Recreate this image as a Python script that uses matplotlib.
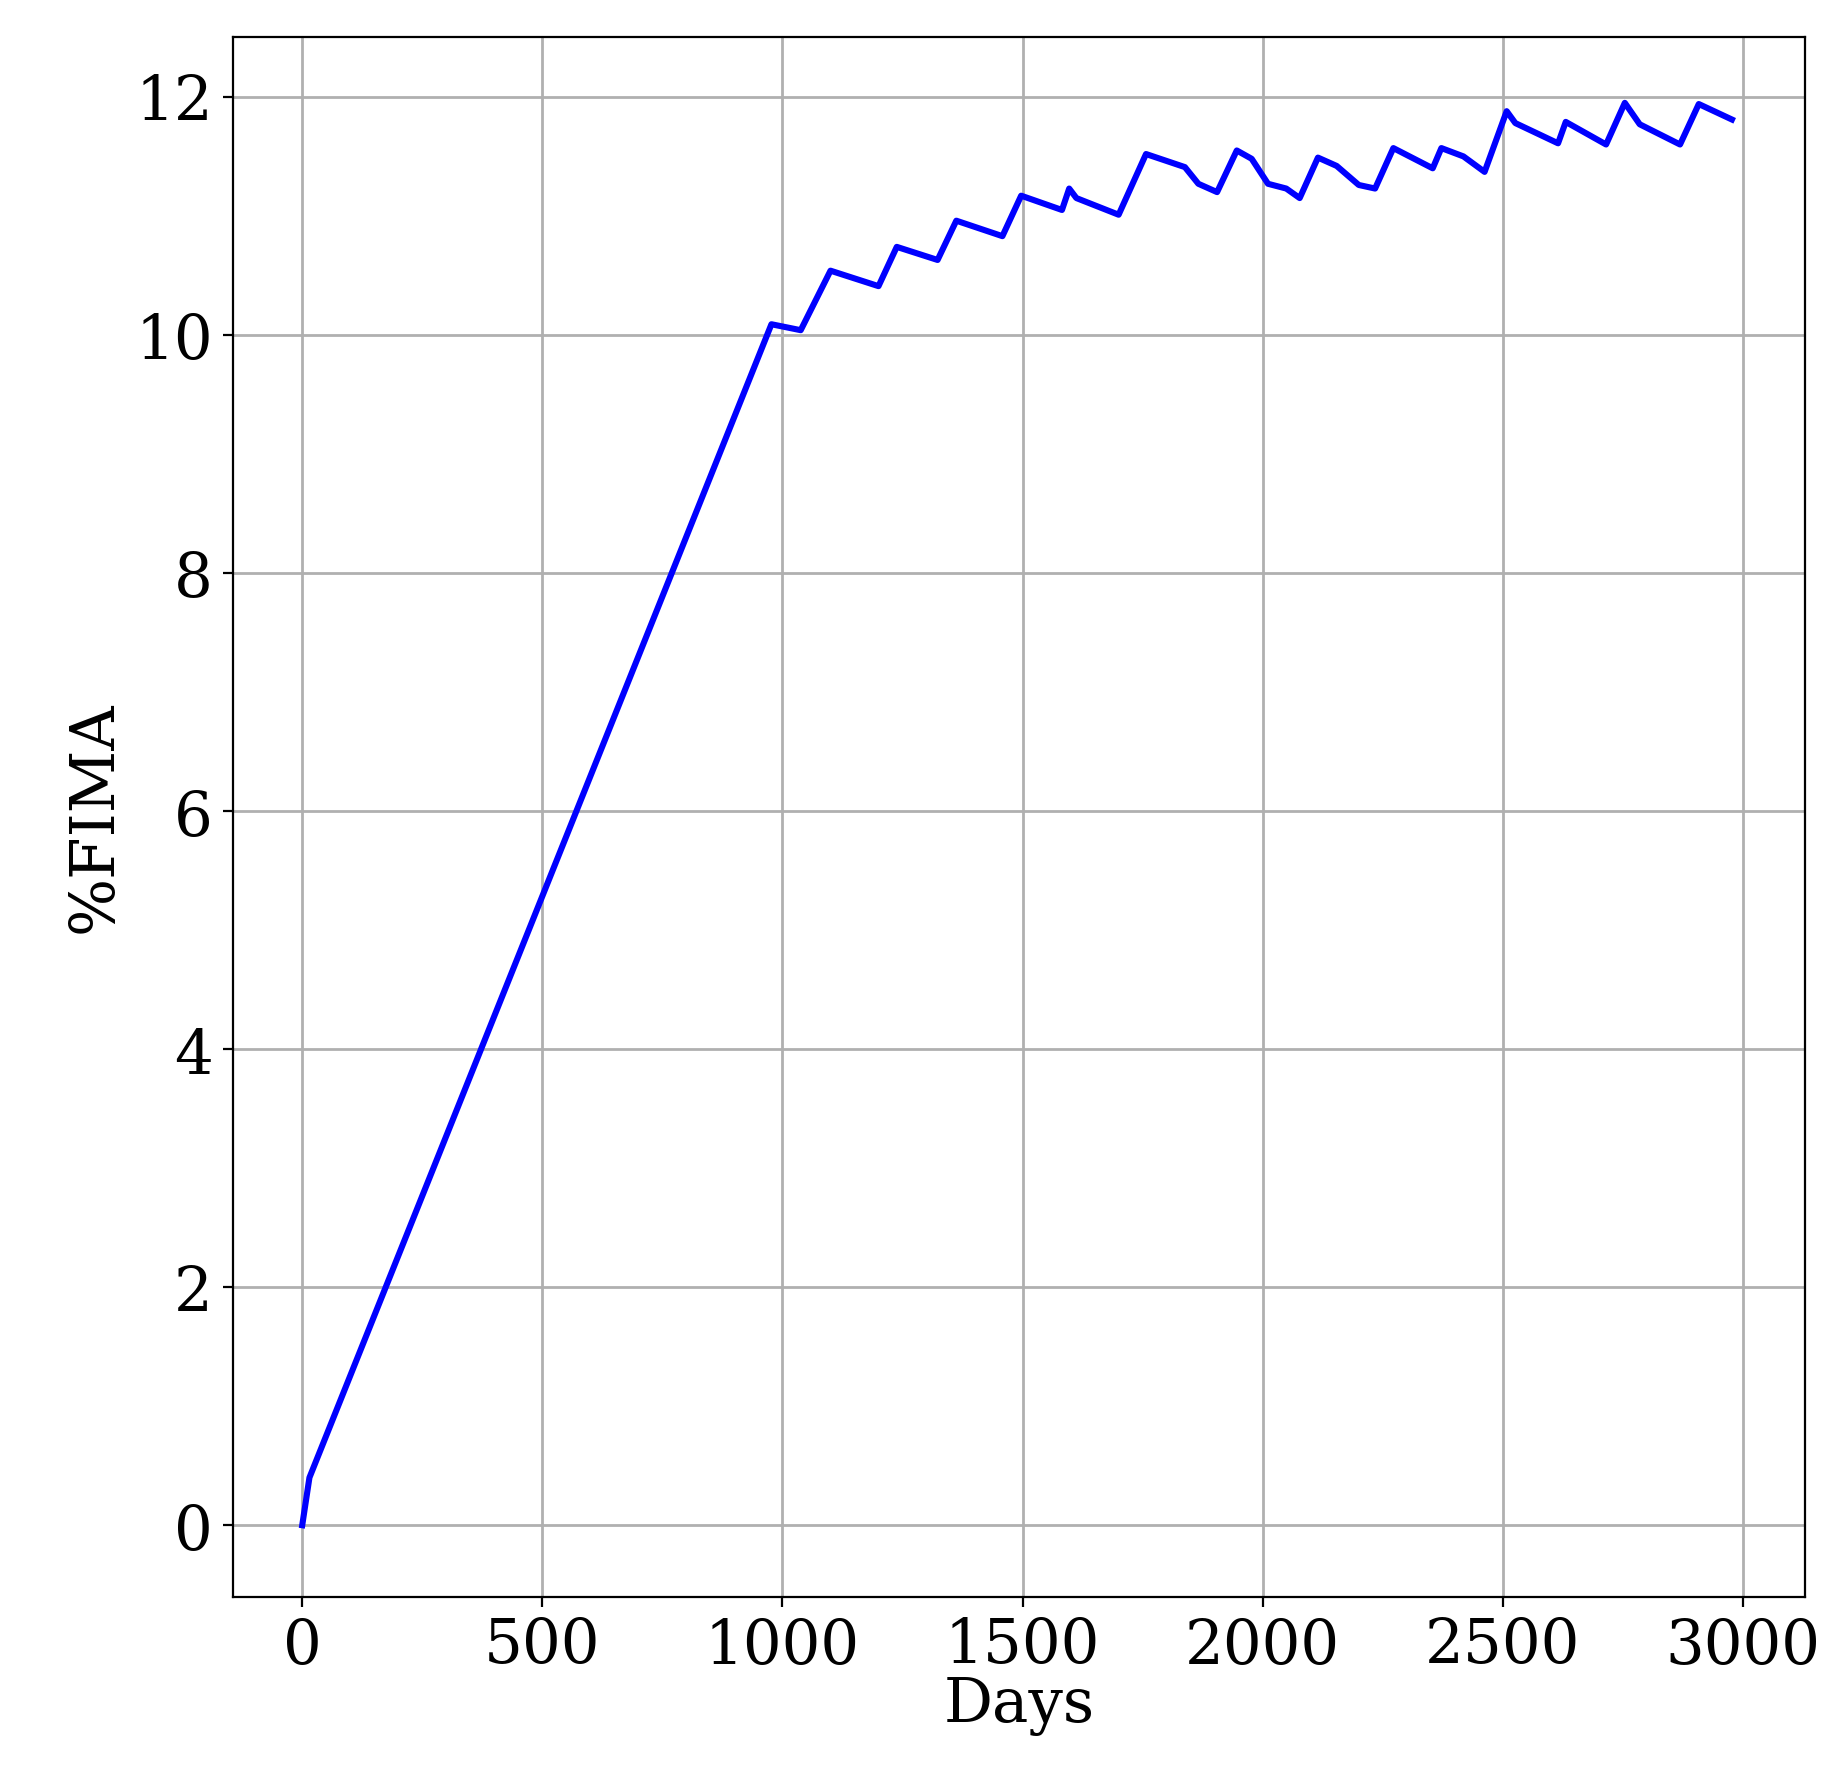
import matplotlib
matplotlib.use("Agg")
import matplotlib.pyplot as plt

days = [0, 15, 977, 1038, 1100, 1200, 1238, 1323, 1362, 1458, 1497, 1582, 1597, 1612,
        1700, 1757, 1838, 1866, 1905, 1946, 1977, 2011, 2049, 2077, 2115, 2154, 2200,
        2234, 2272, 2354, 2372, 2418, 2462, 2508, 2526, 2615, 2631, 2715, 2754, 2785,
        2869, 2908, 2977]
fima = [0.0, 0.4, 10.09, 10.04, 10.54, 10.41, 10.74, 10.63, 10.96, 10.83, 11.17, 11.05,
        11.23, 11.15, 11.01, 11.52, 11.41, 11.27, 11.20, 11.55, 11.48, 11.27, 11.23,
        11.15, 11.49, 11.42, 11.26, 11.23, 11.57, 11.40, 11.57, 11.50, 11.37, 11.88,
        11.78, 11.61, 11.79, 11.60, 11.95, 11.77, 11.60, 11.94, 11.81]

plt.rcParams["font.family"] = "DejaVu Serif"
fig = plt.figure(figsize=(9.23, 8.9), dpi=200)
ax = fig.add_axes([0.126, 0.103, 0.852, 0.876])
ax.plot(days, fima, color="blue", linewidth=2.2)
ax.set_xlim(-145, 3130)
ax.set_ylim(-0.6, 12.5)
ax.set_xticks([0, 500, 1000, 1500, 2000, 2500, 3000])
ax.set_yticks([0, 2, 4, 6, 8, 10, 12])
ax.grid(True, color="#b0b0b0", linewidth=1.0)
ax.tick_params(labelsize=22)
ax.set_xlabel("Days", fontsize=22, labelpad=0)
ax.set_ylabel("%FIMA", fontsize=22)
fig.savefig("out.png", dpi=200)
